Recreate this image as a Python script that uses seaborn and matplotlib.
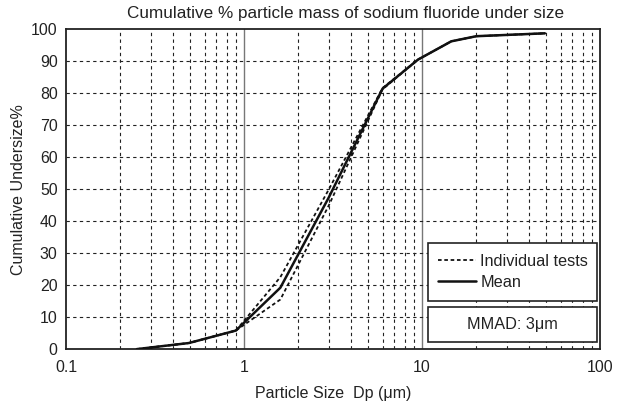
import numpy as np
import pandas as pd
import seaborn as sns
import matplotlib.pyplot as plt
from matplotlib.patches import Rectangle
from matplotlib.lines import Line2D
from matplotlib.ticker import FixedLocator, NullFormatter

# particle size (um) and cumulative undersize (%)
size = [0.25, 0.49, 0.9, 1.6, 3.0, 6.0, 9.5, 14.6, 20.2, 49.0]
mean_pct = [0.0, 1.9, 5.8, 19.2, 47.5, 81.4, 90.5, 96.2, 97.8, 98.7]
test1_pct = [0.0, 1.9, 5.8, 22.5, 50.0, 81.6, 90.5, 96.2, 97.8, 98.7]
test2_pct = [0.0, 1.9, 5.8, 15.5, 45.0, 81.2, 90.5, 96.2, 97.8, 98.7]

x_ticks = [0.1, 1, 10, 100]
x_ticklabels = ["0.1", "1", "10", "100"]
y_ticks = list(range(0, 101, 10))

sns.set_style("white")
plt.rcParams['font.family'] = ['Liberation Sans', 'DejaVu Sans']

fig = plt.figure(figsize=(6.17, 4.05), dpi=100)
ax = fig.add_axes([0.107, 0.138, 0.8655, 0.79])
txt = "#222222"

# grid: minor dashed, major solid grey
minors = [m * d for d in (0.1, 1, 10) for m in range(2, 10)]
for xm in minors:
    ax.axvline(xm, color="#222222", lw=0.8, ls=(0, (3, 3)), zorder=1)
for xv in (1, 10):
    ax.axvline(xv, color="#777777", lw=1.0, zorder=1)
for yv in y_ticks[1:-1]:
    ax.axhline(yv, color="#222222", lw=0.8, ls=(0, (3, 3)), zorder=1)

df = pd.DataFrame({"size": size, "mean": mean_pct, "t1": test1_pct, "t2": test2_pct})
sns.lineplot(data=df, x="size", y="t1", ax=ax, color="#111111", lw=1.3,
             linestyle=(0, (2, 1.5)), zorder=3)
sns.lineplot(data=df, x="size", y="t2", ax=ax, color="#111111", lw=1.3,
             linestyle=(0, (2, 1.5)), zorder=3)
sns.lineplot(data=df, x="size", y="mean", ax=ax, color="#111111", lw=1.8, zorder=4)

ax.set_xscale("log")
ax.set_xlim(0.1, 100)
ax.set_ylim(0, 100)
ax.xaxis.set_major_locator(FixedLocator(x_ticks))
ax.set_xticklabels(x_ticklabels)
ax.xaxis.set_minor_formatter(NullFormatter())
ax.set_yticks(y_ticks)
ax.tick_params(axis="both", which="both", length=0, labelsize=11.4,
               colors=txt)
ax.tick_params(axis="x", pad=8)
ax.tick_params(axis="y", pad=6)
for s in ax.spines.values():
    s.set_color("#222222")
    s.set_linewidth(1.3)

ax.set_title("Cumulative % particle mass of sodium fluoride under size",
             fontsize=12.3, color=txt, pad=8, x=0.523)
ax.set_xlabel("Particle Size  Dp (\u03bcm)", fontsize=11.5, color=txt, labelpad=8)
ax.set_ylabel("Cumulative Undersize%", fontsize=11.5, color=txt, labelpad=4)

# legend box
ax.add_patch(Rectangle((0.677, 0.151), 0.317, 0.181, transform=ax.transAxes,
                       facecolor="white", edgecolor="#222222", lw=1.2, zorder=5))
handles = [Line2D([], [], color="#111111", lw=1.3, ls=(0, (2, 1.5))),
           Line2D([], [], color="#111111", lw=1.8)]
leg = ax.legend(handles, ["Individual tests", "Mean"], loc="center",
                bbox_to_anchor=(0.8375, 0.2415), bbox_transform=ax.transAxes,
                frameon=False, fontsize=11.7, handlelength=2.3,
                handletextpad=0.3, labelspacing=0.38)
leg.set_zorder(6)
for t in leg.get_texts():
    t.set_color(txt)

# MMAD box
ax.add_patch(Rectangle((0.677, 0.023), 0.317, 0.109, transform=ax.transAxes,
                       facecolor="white", edgecolor="#222222", lw=1.2, zorder=5))
ax.text(0.8355, 0.0775, "MMAD: 3\u03bcm", transform=ax.transAxes, ha="center",
        va="center", fontsize=11.7, color=txt, zorder=6)

fig.savefig("out.png", dpi=100)
